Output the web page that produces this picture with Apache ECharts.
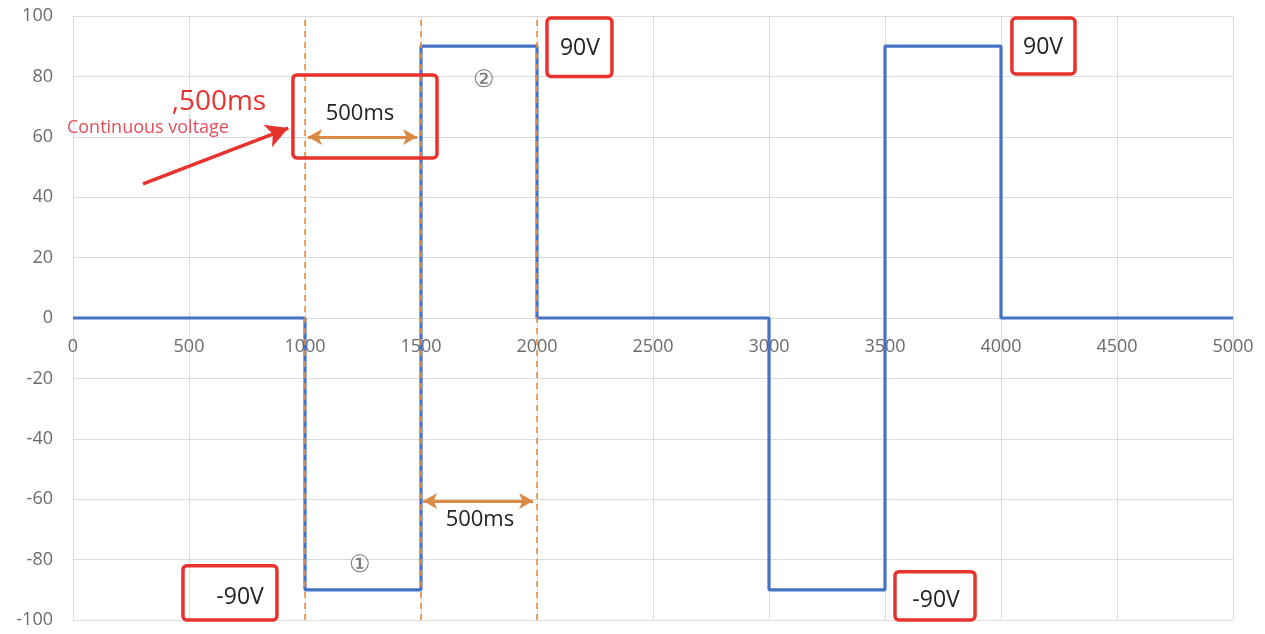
<!DOCTYPE html>
<html><head><meta charset="utf-8">
<script src="https://cdn.jsdelivr.net/npm/echarts@6/dist/echarts.min.js"></script>
<style>html,body{margin:0;padding:0;background:#fff}#c{width:1265px;height:634px}</style>
</head><body><div id="c"></div>
<script>
// Data
const timeMs   = [0, 1000, 1000, 1500, 1500, 2000, 2000, 3000, 3000, 3500, 3500, 4000, 4000, 5000];
const voltageV = [0, 0,   -90,  -90,   90,   90,    0,    0,  -90,  -90,   90,   90,    0,    0];
const dashedMarkers = [1000, 1500, 2000];
// annotation anchors (data coords)
const boxes = [ // [x1,y1,x2,y2]
  [474, -82, 879, -100],
  [3543, -84, 3888, -100],
  [2043, 99.3, 2323, 80],
  [4047, 99.3, 4319, 80.8],
  [948, 80.5, 1569, 53]
];
const texts = [ // [x,y,text,kind]
  [720, -92.4, '-90V', 'v'],
  [3720, -93.4, '-90V', 'v'],
  [2185, 89.4, '90V', 'v'],
  [4181, 89.7, '90V', 'v'],
  [1237, 67.5, '500ms', 'ms'],
  [1754, -66.9, '500ms', 'ms'],
  [1237, -82, '①', 'c'],
  [1772, 78.8, '②', 'c'],
  [629, 71.5, ',500ms', 'red'],
  [323, 62.9, 'Continuous voltage', 'redsmall']
];
const orangeArrows = [[[1013, 59.9], [1483, 59.9]], [[1509, -60.6], [1983, -60.6]]];
const redArrow = [[302, 44.4], [928, 62.9]];

const chart = echarts.init(document.getElementById('c'));
const FONT = '"Open Sans", "Noto Sans", sans-serif';
const mlData = dashedMarkers.map(v => ({xAxis: v}));
const arrowData = orangeArrows.map(a => [
  {coord: a[0], symbol: 'arrow', symbolSize: [12, 14], lineStyle: {color: '#DB8A45', width: 3, type: 'solid'}},
  {coord: a[1], symbol: 'arrow', symbolSize: [12, 14]}
]);
const redData = [[
  {coord: redArrow[0], symbol: 'none', lineStyle: {color: '#E8322D', width: 3.5, type: 'solid'}},
  {coord: redArrow[1], symbol: 'arrow', symbolSize: [18, 22]}
]];
const labelStyle = {color: '#6b6b6b', fontSize: 18, fontFamily: FONT};
chart.setOption({
  animation: false,
  grid: [
    {left: 73, right: 32, top: 16, bottom: 14, outerBoundsMode: 'none', containLabel: false},
    // upper half grid: its bottom edge sits on y = 0 of the main grid, used to carry x tick labels
    {left: 73, right: 32, top: 16, bottom: 316, outerBoundsMode: 'none', containLabel: false, show: false}
  ],
  xAxis: [
    {type: 'value', gridIndex: 0, min: 0, max: 5000, interval: 500,
      axisLine: {show: false}, axisTick: {show: false}, axisLabel: {show: false},
      splitLine: {lineStyle: {color: '#dcdcdc', width: 1}}},
    {type: 'value', gridIndex: 1, min: 0, max: 5000, interval: 500, position: 'bottom',
      axisLine: {show: false}, axisTick: {show: false}, splitLine: {show: false},
      axisLabel: Object.assign({margin: 20, formatter: v => String(v)}, labelStyle)}
  ],
  yAxis: [
    {type: 'value', gridIndex: 0, min: -100, max: 100, interval: 20,
      axisLine: {show: false}, axisTick: {show: false},
      axisLabel: Object.assign({margin: 20}, labelStyle),
      splitLine: {lineStyle: {color: '#dcdcdc', width: 1}}},
    {type: 'value', gridIndex: 1, min: 0, max: 1, show: false}
  ],
  series: [
    {type: 'line', xAxisIndex: 0, yAxisIndex: 0, data: timeMs.map((t, i) => [t, voltageV[i]]), showSymbol: false,
      lineStyle: {color: '#4472C4', width: 3.2}, z: 3,
      markLine: {silent: true, symbol: 'none', label: {show: false},
        lineStyle: {color: '#EE8A3C', type: [6, 5], width: 1.6}, data: mlData}},
    {type: 'line', xAxisIndex: 0, yAxisIndex: 0, data: [], markLine: {silent: true, label: {show: false}, data: arrowData.concat(redData)}, z: 5}
  ]
});
function drawAnno() {
  const g = [];
  boxes.forEach(b => {
    const p1 = chart.convertToPixel({gridIndex: 0}, [b[0], b[1]]);
    const p2 = chart.convertToPixel({gridIndex: 0}, [b[2], b[3]]);
    g.push({type: 'rect', shape: {x: Math.min(p1[0], p2[0]), y: Math.min(p1[1], p2[1]),
      width: Math.abs(p2[0] - p1[0]), height: Math.abs(p2[1] - p1[1]), r: 4},
      style: {fill: 'none', stroke: '#E8322D', lineWidth: 3.5}, z: 10});
  });
  const styles = {
    v: {fontSize: 23, fill: '#222'},
    ms: {fontSize: 22, fill: '#222'},
    c: {fontSize: 24, fill: '#777'},
    red: {fontSize: 28, fill: '#E8322D'},
    redsmall: {fontSize: 18, fill: '#E5505A'}
  };
  texts.forEach(t => {
    const p = chart.convertToPixel({gridIndex: 0}, [t[0], t[1]]);
    g.push({type: 'text', x: p[0], y: p[1], z: 11,
      style: Object.assign({text: t[2], align: 'center', verticalAlign: 'middle', fontFamily: FONT}, styles[t[3]])});
  });
  chart.setOption({graphic: g});
}
drawAnno();
</script></body></html>
